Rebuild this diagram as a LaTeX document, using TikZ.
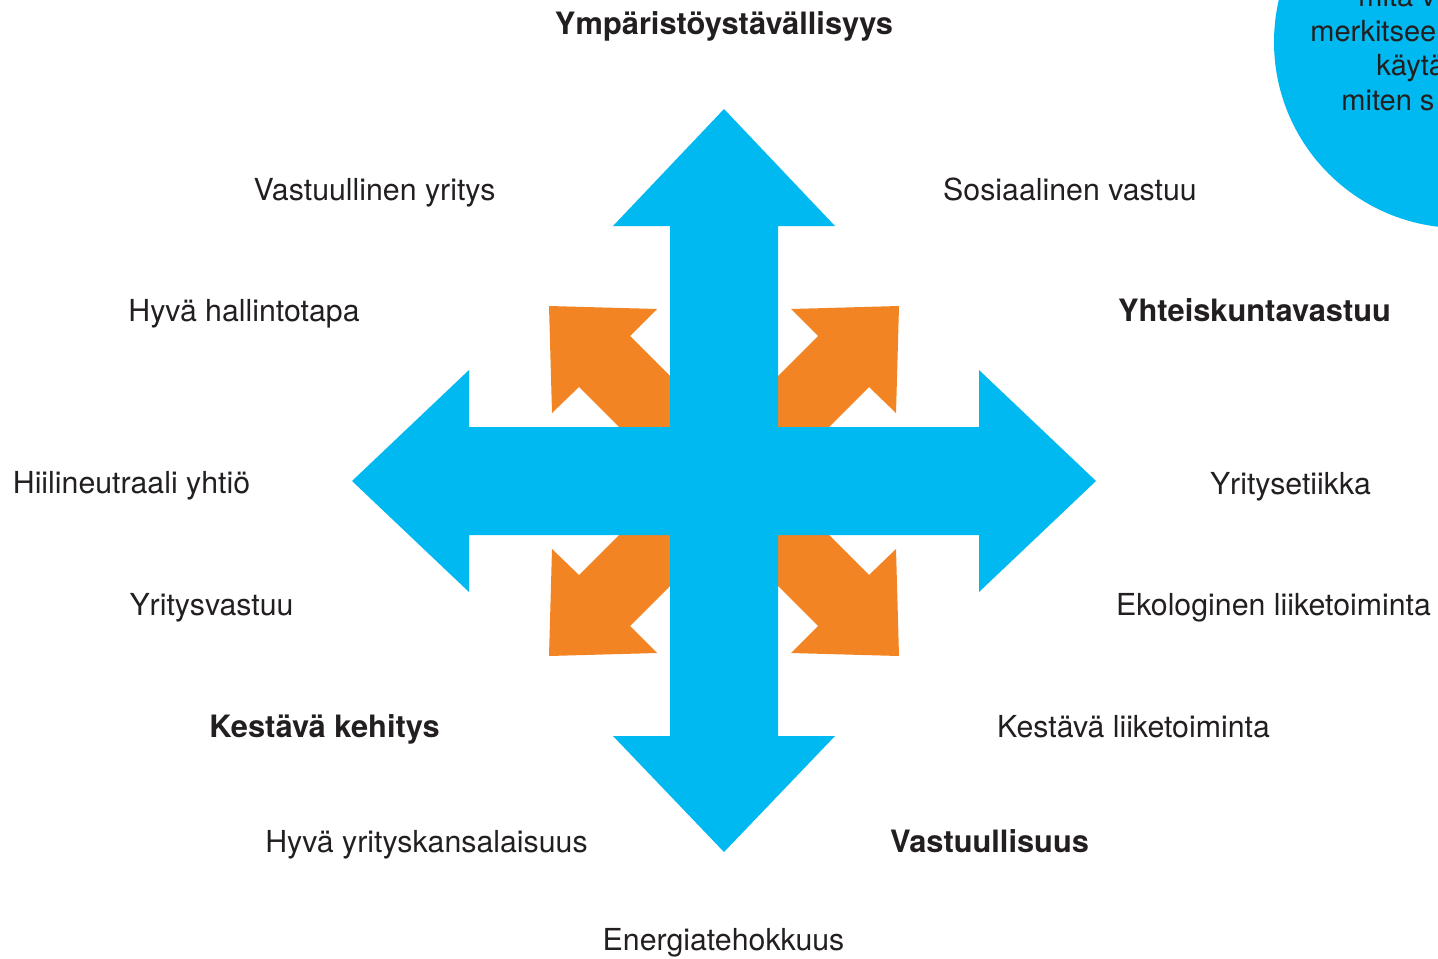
\documentclass[tikz,border=0pt]{standalone}
\usepackage{fontspec}
\setmainfont{TeX Gyre Heros}
\definecolor{cblue}{RGB}{0,185,241}
\definecolor{corange}{RGB}{243,132,35}
\definecolor{ctext}{RGB}{35,31,32}
\tikzset{
  lbl/.style={anchor=base, inner sep=0pt, text=ctext, font=\fontsize{15.15}{18}\selectfont},
  blbl/.style={lbl, font=\fontsize{15.4}{18}\selectfont\bfseries},
  clbl/.style={anchor=base west, inner sep=0pt, text=ctext, font=\fontsize{14.5}{17}\selectfont},
  bluefill/.style={fill=cblue, draw=none},
  orangefill/.style={fill=corange, draw=none}
}
\begin{document}
\begin{tikzpicture}[x=0.5pt,y=-0.5pt]
\useasboundingbox (0,0) rectangle (1438,958);
\clip (0,0) rectangle (1438,958);
\fill[white] (0,0) rectangle (1438,958);
% circle top right
\fill[bluefill] (1460,42) circle[radius=93pt];
\node[clbl] (c1) at (1358,6) {mitä v};
\node[clbl] (c2) at (1310,41) {merkitsee};
\node[clbl] (c3) at (1376,75) {käytä};
\node[clbl] (c4) at (1341,110) {miten s};
% orange diagonal arrows
\fill[orangefill] (549,306) -- (657,309) -- (630,336) -- (710,416) -- (660,468) -- (579,387) -- (552,413) -- cycle;
\fill[orangefill] (899,306) -- (791,309) -- (818,336) -- (738,416) -- (788,468) -- (869,387) -- (896,413) -- cycle;
\fill[orangefill] (549,656) -- (657,653) -- (630,626) -- (710,546) -- (660,494) -- (579,575) -- (552,549) -- cycle;
\fill[orangefill] (899,656) -- (791,653) -- (818,626) -- (738,546) -- (788,494) -- (869,575) -- (896,549) -- cycle;
% blue cross
\fill[bluefill] (724,109) -- (835,226) -- (778,226) -- (778,427) -- (979,427) -- (979,370) -- (1096,481)
  -- (979,592) -- (979,535) -- (778,535) -- (778,736) -- (835,736) -- (724,852) -- (613,736)
  -- (670,736) -- (670,535) -- (469,535) -- (469,592) -- (352,481) -- (469,370) -- (469,427)
  -- (670,427) -- (670,226) -- (613,226) -- cycle;
% labels
\node[blbl] (t1) at (724,34) {Ympäristöystävällisyys};
\node[lbl] (t2) at (374.5,200) {Vastuullinen yritys};
\node[lbl] (t3) at (1070,200) {Sosiaalinen vastuu};
\node[lbl] (t4) at (244,321) {Hyvä hallintotapa};
\node[blbl] (t5) at (1254.5,321) {Yhteiskuntavastuu};
\node[lbl] (t6) at (131.5,493) {Hiilineutraali yhtiö};
\node[lbl] (t7) at (1290.5,494) {Yritysetiikka};
\node[lbl] (t8) at (211.5,615) {Yritysvastuu};
\node[lbl] (t9) at (1273.5,615) {Ekologinen liiketoiminta};
\node[blbl] (t10) at (324.5,737) {Kestävä kehitys};
\node[lbl] (t11) at (1133.5,737) {Kestävä liiketoiminta};
\node[lbl] (t12) at (426.5,852) {Hyvä yrityskansalaisuus};
\node[blbl] (t13) at (989.5,852) {Vastuullisuus};
\node[lbl] (t14) at (723.5,950) {Energiatehokkuus};
\end{tikzpicture}
\end{document}
